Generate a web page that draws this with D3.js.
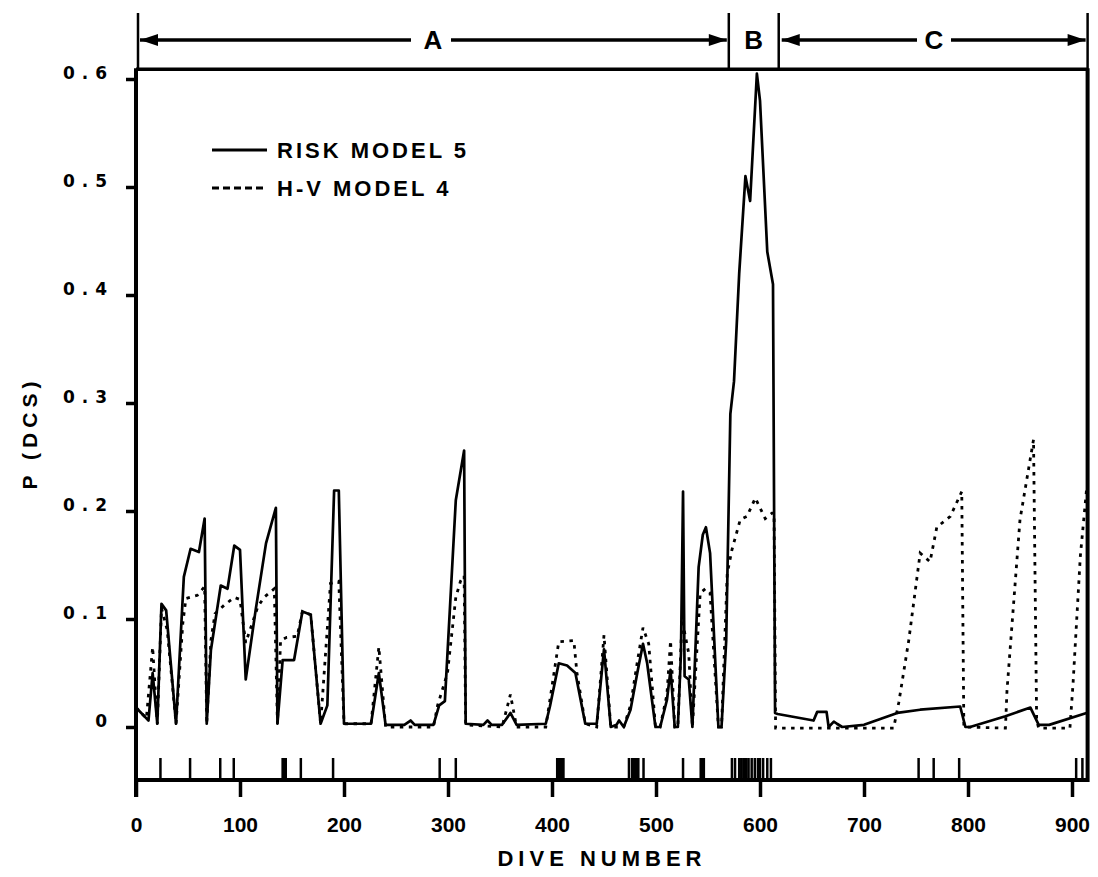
<!DOCTYPE html>
<html><head><meta charset="utf-8">
<script src="https://cdn.jsdelivr.net/npm/d3@7"></script>
<style>body{margin:0;background:#fff}</style>
</head><body><svg id="c" width="1098" height="877"></svg>
<script>
// ---- data ----
const riskDive = [0,2,10,12,16,20.5,24.5,29,38.5,46,52.5,60.5,66,68,72,81.5,88,94.5,100,105.5,115,125,134.5,136,141,152,160,168,177.5,184,190.5,195,200,226,233.5,240,258,264,268,286,291.5,297,307.5,315.5,317,334,338,342,352,360,366,394,398,406.5,414.5,422.5,432,443,450,456.5,462,464.5,469,475.5,482,487.5,491.5,499.5,504,510.5,514,518,521,524,526,527.5,531.5,535,541,545,548,552,560,563,567.5,571.5,575,580,586,590.5,597,600,607,612.5,614.5,617,651.5,655,664,666,671,674,679,700,732,754,792.5,797.5,802,836,860,868,878,914];
const riskP = [0.018,0.016,0.008,0.006,0.05,0.003,0.114,0.108,0.003,0.139,0.165,0.162,0.193,0.003,0.071,0.131,0.128,0.168,0.164,0.044,0.108,0.17,0.203,0.003,0.062,0.062,0.107,0.104,0.003,0.02,0.219,0.219,0.003,0.003,0.05,0.002,0.002,0.006,0.002,0.002,0.02,0.024,0.21,0.256,0.003,0.002,0.006,0.002,0.002,0.013,0.002,0.003,0.019,0.059,0.057,0.05,0.003,0.003,0.072,0.0,0.002,0.006,0.0,0.016,0.05,0.077,0.059,0.0,0.0,0.025,0.053,0.0,0.0,0.068,0.218,0.047,0.044,0.0,0.148,0.178,0.185,0.161,0.0,0.0,0.08,0.29,0.32,0.42,0.51,0.487,0.605,0.58,0.44,0.41,0.013,0.012,0.006,0.014,0.014,0.0,0.005,0.003,0.0,0.002,0.013,0.016,0.019,0.0,0.0,0.01,0.018,0.002,0.002,0.013];
const hvDive = [0,10,16,20.5,24.5,30,38.5,45,48,59,66,68,72,76,85,94.5,100,105.5,117,123,133,136,139,145,155,160,168,177.5,187,195,200,226,233.5,240,286,290,299.5,307.5,312,315.5,317,352,360,366,394,398,406.5,421,424,432,443,450,456.5,469,475.5,482,487.5,493,499.5,504,510.5,514,518,521,525,531.5,535,542.5,547.5,552,560,563,568.5,573,581,587.5,595.5,605,611.5,613.5,615,728.5,733.5,743,754,763.5,770,783,794,796,836,837.5,850,863,866,868,898,901,908,914];
const hvP = [0.018,0.008,0.074,0.003,0.11,0.09,0.003,0.096,0.119,0.122,0.13,0.003,0.08,0.105,0.113,0.12,0.118,0.078,0.111,0.12,0.128,0.003,0.08,0.083,0.084,0.107,0.104,0.003,0.133,0.135,0.003,0.003,0.074,0.0,0.0,0.02,0.05,0.12,0.135,0.14,0.002,0.0,0.03,0.0,0.0,0.025,0.079,0.08,0.05,0.003,0.0,0.085,0.0,0.0,0.02,0.06,0.092,0.077,0.0,0.0,0.03,0.08,0.0,0.0,0.1,0.068,0.0,0.124,0.128,0.124,0.0,0.0,0.142,0.164,0.192,0.195,0.212,0.193,0.198,0.198,-0.001,-0.001,0.023,0.08,0.161,0.153,0.185,0.195,0.218,0.0,-0.001,0.034,0.192,0.266,0.006,-0.001,-0.001,0.04,0.158,0.22];
const rugDives = [23.5,52,81,94,141,142.5,144,158.5,189.5,292,307.5,405,406.5,408,409.5,411,474,477,478.5,480,481.5,483,488,526,543,544.5,546,573,576,580,582,584,585.5,587,589,592,595,598,600,603,607,610.5,752.5,767,791.5,904,910];
const xTicks = [0,100,200,300,400,500,600,700,800,900];
const yTicks = [0,0.1,0.2,0.3,0.4,0.5,0.6];
const regionNames = ["A","B","C"];
const regionBounds = [0,570,618,915];
const seriesNames = ["RISK MODEL 5","H-V MODEL 4"];

// ---- scales ----
const svg = d3.select("#c");
svg.append("rect").attr("width",1098).attr("height",877).attr("fill","#fff");
const x = d3.scaleLinear().domain([0,900]).range([136,1072]);
const y = d3.scaleLinear().domain([0,0.6]).range([727,79]);
const frameTop = y(0.609), fL = x(0), fR = x(915), rugBase = 780;

// frame
const g = svg.append("g").attr("stroke","#000").attr("fill","none");
g.append("line").attr("x1",fL).attr("x2",fR).attr("y1",frameTop).attr("y2",frameTop).attr("stroke-width",3.5);
g.append("line").attr("x1",fR).attr("x2",fR).attr("y1",frameTop-1).attr("y2",rugBase+2).attr("stroke-width",4);
g.append("line").attr("x1",fL).attr("x2",fL).attr("y1",frameTop-1).attr("y2",797).attr("stroke-width",4);
g.append("line").attr("x1",fL).attr("x2",fR).attr("y1",rugBase).attr("y2",rugBase).attr("stroke-width",4);

// y axis
const ya = svg.append("g").attr("transform",`translate(${fL},0)`)
  .call(d3.axisLeft(y).tickValues(yTicks).tickSize(10).tickFormat(d=>d===0?"0":d.toFixed(1)));
ya.select(".domain").remove();
ya.selectAll(".tick line").attr("stroke","#000").attr("stroke-width",3.5);
ya.selectAll(".tick text").attr("x",-22).attr("dy",null).attr("y",-1)
  .attr("font-family","DejaVu Sans").attr("font-weight","bold").attr("font-size",17)
  .attr("letter-spacing",7).attr("fill","#000");

// x axis
const xa = svg.append("g").attr("transform",`translate(0,${rugBase})`)
  .call(d3.axisBottom(x).tickValues(xTicks).tickSize(17).tickFormat(d3.format("d")));
xa.select(".domain").remove();
xa.selectAll(".tick line").attr("stroke","#000").attr("stroke-width",3.5);
xa.selectAll(".tick text").attr("y",52).attr("dy",null)
  .attr("font-family","Liberation Sans").attr("font-weight","bold").attr("font-size",21).attr("fill","#000");

// rug
svg.append("g").selectAll("line").data(rugDives).join("line")
  .attr("x1",d=>x(d)).attr("x2",d=>x(d)).attr("y1",758).attr("y2",rugBase)
  .attr("stroke","#000").attr("stroke-width",2.5);

// series
const risk = riskDive.map((d,i)=>[d,riskP[i]]);
const hv = hvDive.map((d,i)=>[d,hvP[i]]);
const line = d3.line().x(d=>x(d[0])).y(d=>y(d[1]));
svg.append("path").datum(hv).attr("d",line).attr("fill","none").attr("stroke","#000")
  .attr("stroke-width",2.8).attr("stroke-dasharray","3.5,5.5");
svg.append("path").datum(risk).attr("d",line).attr("fill","none").attr("stroke","#000")
  .attr("stroke-width",2.7).attr("stroke-linejoin","round");

// legend
const lg = svg.append("g");
[150,188].forEach((ly,i)=>{
  lg.append("line").attr("x1",212).attr("x2",267).attr("y1",ly).attr("y2",ly)
    .attr("stroke","#000").attr("stroke-width",2.8).attr("stroke-dasharray",i? "7,4":null);
  lg.append("text").attr("x",277).attr("y",ly+8).text(seriesNames[i])
    .attr("font-family","Liberation Sans").attr("font-weight","bold").attr("font-size",22).attr("letter-spacing",3);
});

// axis titles
svg.append("text").attr("x",602).attr("y",866).attr("text-anchor","middle")
  .attr("font-family","Liberation Sans").attr("font-weight","bold").attr("font-size",22).attr("letter-spacing",5).text("DIVE NUMBER");
svg.append("text").attr("transform","translate(37,433) rotate(-90)").attr("text-anchor","middle")
  .attr("font-family","Liberation Sans").attr("font-weight","bold").attr("font-size",21).attr("letter-spacing",5).text("P (DCS)");

// header regions
const hy = 40;
const hg = svg.append("g");
regionBounds.forEach(b=>{
  hg.append("line").attr("x1",x(b)+(b===0?2:0)).attr("x2",x(b)+(b===0?2:0)).attr("y1",13).attr("y2",frameTop)
    .attr("stroke","#000").attr("stroke-width",2.5);
});
function arrow(x1,x2,dir){ // dir: -1 head at x1 (left), +1 head at x2
  hg.append("line").attr("x1",x1).attr("x2",x2).attr("y1",hy).attr("y2",hy).attr("stroke","#000").attr("stroke-width",3.5);
  const tip = dir<0?x1:x2, base = tip - dir*18;
  hg.append("path").attr("d",`M${tip},${hy}L${base},${hy-6}L${base},${hy+6}Z`).attr("fill","#000");
}
const labA = 433, labC = 934;
arrow(x(0)+4, labA-22, -1); arrow(labA+18, x(570)-2, 1);
arrow(x(618)+3, labC-17, -1); arrow(labC+17, x(915)-2, 1);
[[labA,"A"],[ (x(570)+x(618))/2,"B"],[labC,"C"]].forEach(([cx,t])=>{
  hg.append("text").attr("x",cx).attr("y",hy+9).attr("text-anchor","middle")
    .attr("font-family","Liberation Sans").attr("font-weight","bold").attr("font-size",26).text(t);
});
</script></body></html>
